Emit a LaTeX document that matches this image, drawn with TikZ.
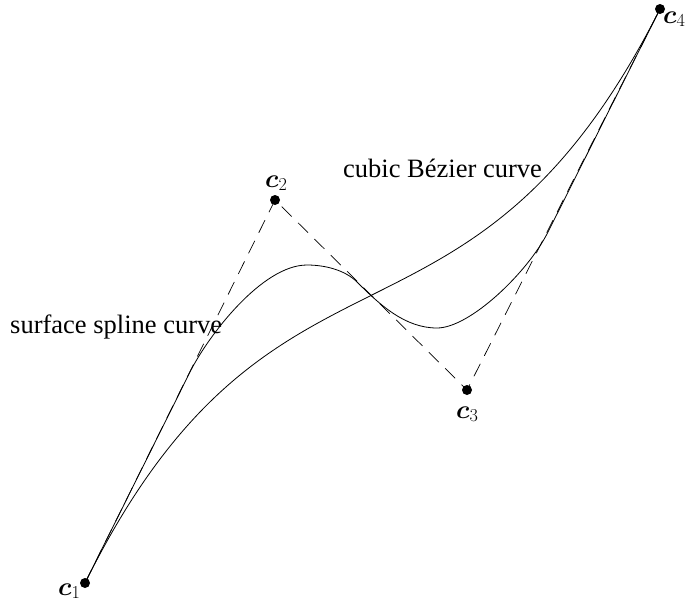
\documentclass[tikz,border=0pt]{standalone}
\usepackage{fix-cm}
\usepackage{amsmath}
\usepackage{fontspec}
\setmainfont{Liberation Serif}
\usetikzlibrary{positioning}

\begin{document}
\begin{tikzpicture}[
    x=1pt, y=-1pt,
    ctrl/.style={circle, fill=black, inner sep=0pt, minimum size=10pt},
    poly/.style={dash pattern=on 14pt off 9pt, line width=0.7pt},
    curve/.style={line width=0.8pt},
    ptlabel/.style={font=\fontsize{26}{30}\selectfont, anchor=base west, inner sep=0pt},
    label/.style={font=\fontsize{26.5}{30}\selectfont, anchor=base west, inner sep=0pt},
]
\useasboundingbox (0,0) rectangle (687,608);
% control points
\node[ctrl] (c1) at (85,583) {};
\node[ctrl] (c2) at (275,200) {};
\node[ctrl] (c3) at (467,390) {};
\node[ctrl] (c4) at (660,9) {};
\node[ptlabel] (l1) at (58,595) {$\boldsymbol{c}_1$};
\node[ptlabel] (l2) at (265,187) {$\boldsymbol{c}_2$};
\node[ptlabel] (l3) at (456,418) {$\boldsymbol{c}_3$};
\node[ptlabel] (l4) at (663,23) {$\boldsymbol{c}_4$};
% control polygon
\draw[poly] (c1.center) -- (c2.center) -- (c3.center) -- (c4.center);
% cubic Bezier
\draw[curve] (c1.center) .. controls (c2.center) and (c3.center) .. (c4.center);
% surface spline (tangent to the polygon legs)
\coordinate (s1) at (190,372);
\coordinate (s2) at (307,265);
\coordinate (s3) at (357,282);
\coordinate (s4) at (437,328);
\coordinate (s5) at (548,232);
\draw[curve] (c1.center) -- (s1)
    .. controls (208,336) and (262,265) .. (s2)
    .. controls (325,265) and (345,270) .. (s3)
    .. controls (380,305) and (405,328) .. (s4)
    .. controls (470,328) and (528,272) .. (s5)
    -- (c4.center);
% texts
\node[label] (tspline) at (10,333) {surface spline curve};
\node[label] (tbezier) at (343,177) {cubic Bézier curve};
\end{tikzpicture}
\end{document}
